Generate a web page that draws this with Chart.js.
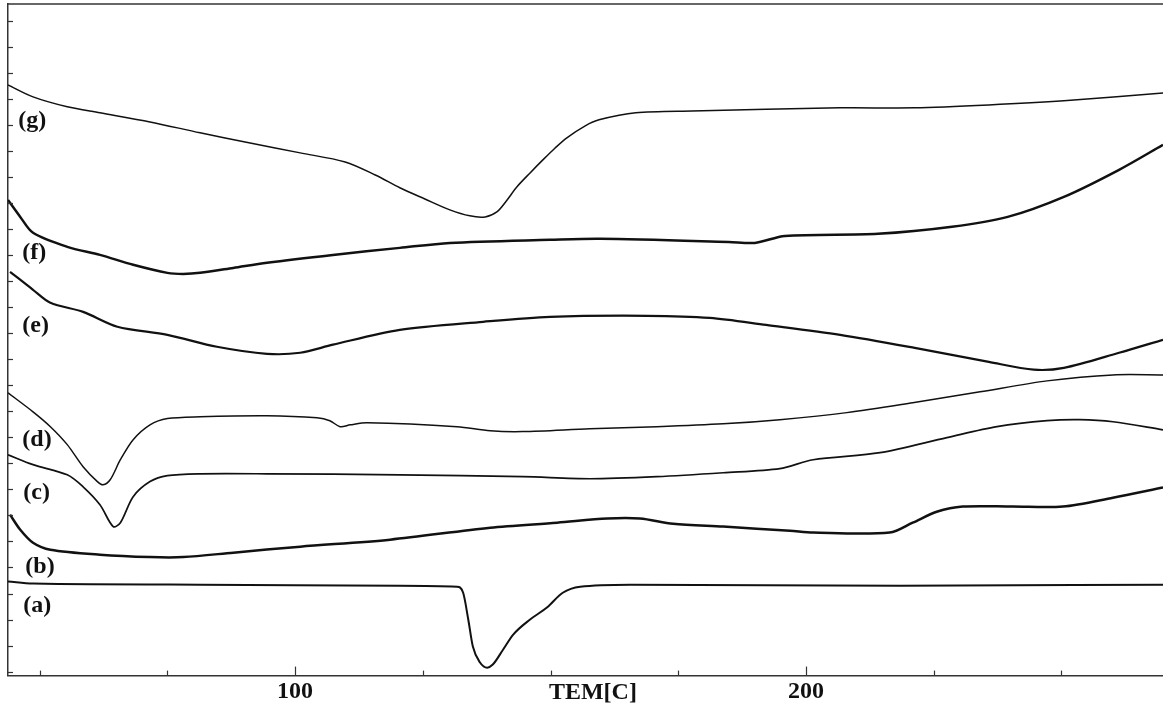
<!DOCTYPE html>
<html><head><meta charset="utf-8">
<script src="https://cdn.jsdelivr.net/npm/chart.js@4/dist/chart.umd.min.js"></script>
<style>html,body{margin:0;padding:0;background:#fff}#wrap{width:1163px;height:708px;position:relative}</style>
</head><body><div id="wrap"><canvas id="c" width="1163" height="708"></canvas></div>
<script>
// DSC curves: temperature (°C) and heat flow (arbitrary units, one unit per y tick)
const aTemp=[43.8,48.7,81.4,120.5,131.7,132.9,133.9,134.8,136.2,137.6,138.7,140.7,142.7,146.0,149.3,152.4,155.8,165.6,218.4,269.9];
const aFlow=[3.46,3.38,3.34,3.30,3.26,3.03,2.00,0.96,0.35,0.15,0.27,0.84,1.42,2.00,2.46,3.03,3.26,3.34,3.30,3.34];
const bTemp=[44.2,46.2,48.7,52.1,61.8,71.6,78.1,87.9,101.0,118.6,138.2,151.3,161.1,167.5,174.0,183.8,196.9,201.4,216.4,220.9,225.6,230.7,240.5,250.3,260.1,269.9];
const bFlow=[6.03,5.45,4.95,4.68,4.49,4.40,4.40,4.57,4.80,5.07,5.53,5.72,5.88,5.88,5.68,5.57,5.41,5.34,5.34,5.72,6.14,6.34,6.34,6.34,6.68,7.07];
const cTemp=[43.8,48.7,55.4,58.5,61.8,64.4,65.8,68.3,71.6,75.0,81.4,94.5,120.5,144.6,157.7,170.8,183.8,194.9,201.4,214.5,227.6,237.4,247.2,253.6,260.1,269.9];
const cFlow=[8.33,7.95,7.56,7.10,6.41,5.57,5.72,6.72,7.30,7.53,7.60,7.60,7.56,7.49,7.41,7.49,7.64,7.80,8.14,8.41,8.99,9.41,9.64,9.68,9.60,9.29];
const dTemp=[43.8,48.7,52.1,55.4,58.5,61.3,62.4,63.8,65.8,68.3,71.6,75.0,81.4,94.5,104.3,106.8,108.8,110.8,114.1,131.7,138.2,144.6,157.7,170.8,183.8,194.9,208.0,220.9,234.1,247.2,260.1,269.9];
const dFlow=[10.71,9.98,9.41,8.72,7.87,7.30,7.18,7.37,8.14,8.91,9.48,9.72,9.79,9.83,9.75,9.64,9.41,9.48,9.56,9.41,9.25,9.22,9.33,9.41,9.52,9.68,9.95,10.33,10.75,11.17,11.40,11.40];
const eTemp=[44.2,48.7,52.1,58.5,65.2,75.0,84.7,94.5,101.0,107.4,120.5,136.8,149.9,168.9,181.2,192.2,206.7,221.3,235.8,244.6,250.5,261.3,269.9];
const eFlow=[15.36,14.67,14.17,13.82,13.25,12.94,12.48,12.21,12.25,12.56,13.13,13.44,13.63,13.67,13.59,13.32,12.94,12.44,11.90,11.60,11.67,12.25,12.75];
const fTemp=[43.8,46.2,48.7,55.4,61.8,68.3,75.0,78.1,81.4,87.9,94.5,107.4,120.5,130.3,149.9,159.7,184.9,190.0,195.9,214.1,228.6,239.5,250.5,261.3,269.9];
const fFlow=[18.12,17.47,16.86,16.32,16.01,15.63,15.32,15.28,15.32,15.51,15.71,16.01,16.28,16.47,16.59,16.63,16.51,16.47,16.74,16.82,17.09,17.47,18.24,19.28,20.24];
const gTemp=[43.8,48.7,55.4,61.8,71.6,81.4,91.2,101.0,109.8,115.7,120.5,125.4,130.3,134.2,137.2,139.5,141.5,143.4,146.0,148.5,150.9,153.2,156.8,159.5,166.7,177.7,206.7,221.3,235.8,250.5,269.9];
const gFlow=[22.54,22.08,21.70,21.47,21.12,20.70,20.31,19.93,19.58,19.08,18.59,18.16,17.74,17.51,17.47,17.66,18.12,18.62,19.16,19.66,20.12,20.51,20.97,21.20,21.47,21.54,21.66,21.66,21.77,21.93,22.23];

const curveNames=['(a)','(b)','(c)','(d)','(e)','(f)','(g)'];
const xTickValues=[50,75,100,125,150,175,200,225,250];
const xLabelledTicks=[100,200];
const yTickValues=[0,1,2,3,4,5,6,7,8,9,10,11,12,13,14,15,16,17,18,19,20,21,22,23,24,25];
const xTitle='TEM[C]';

const series=[[aTemp,aFlow],[bTemp,bFlow],[cTemp,cFlow],[dTemp,dFlow],[eTemp,eFlow],[fTemp,fFlow],[gTemp,gFlow]];
const widths=[2.0,2.5,1.7,1.5,2.2,2.5,1.5];

const datasets=series.map((s,i)=>({
  label:curveNames[i],
  data:s[0].map((t,j)=>({x:t,y:s[1][j]})),
  borderColor:'#111',
  borderWidth:widths[i],
  pointRadius:0,
  fill:false,
  tension:i===0?0:0.3,
  cubicInterpolationMode:i===0?'monotone':'default'
}));

const serif='"Liberation Serif","DejaVu Serif",serif';

const decor={
  id:'decor',
  afterDraw(chart,args,opts){
    const ctx=chart.ctx, ca=chart.chartArea, xs=chart.scales.x, ys=chart.scales.y;
    ctx.save();
    ctx.strokeStyle='#333';
    ctx.lineWidth=1.5;
    ctx.beginPath();ctx.moveTo(ca.left,ca.top);ctx.lineTo(ca.right,ca.top);ctx.stroke();
    ctx.lineWidth=1.2;
    xs.ticks.forEach(t=>{
      const px=Math.round(xs.getPixelForValue(t.value))+0.5;
      const len=xLabelledTicks.includes(t.value)?9:5;
      ctx.beginPath();ctx.moveTo(px,ca.bottom);ctx.lineTo(px,ca.bottom-len);ctx.stroke();
    });
    ys.ticks.forEach(t=>{
      const py=Math.round(ys.getPixelForValue(t.value))+0.5;
      ctx.beginPath();ctx.moveTo(ca.left,py);ctx.lineTo(ca.left+5,py);ctx.stroke();
    });
    ctx.fillStyle='#111';
    ctx.font='bold 24px '+serif;
    ctx.textAlign='left';ctx.textBaseline='middle';
    opts.labelX.forEach((lx,i)=>{
      ctx.fillText(curveNames[i],xs.getPixelForValue(lx),ys.getPixelForValue(opts.labelY[i]));
    });
    ctx.textAlign='center';
    ctx.fillText(xTitle,xs.getPixelForValue(opts.titleX),ca.bottom+17);
    ctx.restore();
  }
};

new Chart(document.getElementById('c'),{
  type:'line',
  data:{datasets},
  options:{
    responsive:false,
    animation:false,
    events:[],
    layout:{padding:{left:8,top:4,right:0,bottom:0}},
    plugins:{
      legend:{display:false},
      tooltip:{enabled:false},
      decor:{
        labelX:[46.8,47.2,46.8,46.6,46.6,46.6,45.8],
        labelY:[2.53,4.03,6.87,8.91,13.29,16.09,21.16],
        titleX:158.3
      }
    },
    scales:{
      x:{
        type:'linear',min:43.8,max:269.9,
        afterBuildTicks:(s)=>{s.ticks=xTickValues.map(v=>({value:v}));},
        grid:{display:false,drawTicks:false},
        border:{display:true,color:'#333',width:1.5},
        ticks:{autoSkip:false,maxRotation:0,padding:3,color:'#111',
          font:{family:serif,size:24,weight:'bold',lineHeight:1.1},
          callback:(v)=>xLabelledTicks.includes(v)?String(v):''}
      },
      y:{
        type:'linear',min:-0.154,max:25.65,
        afterBuildTicks:(s)=>{s.ticks=yTickValues.map(v=>({value:v}));},
        grid:{display:false,drawTicks:false},
        border:{display:true,color:'#333',width:1.5},
        ticks:{display:false}
      }
    }
  },
  plugins:[decor]
});
</script>
</body></html>
